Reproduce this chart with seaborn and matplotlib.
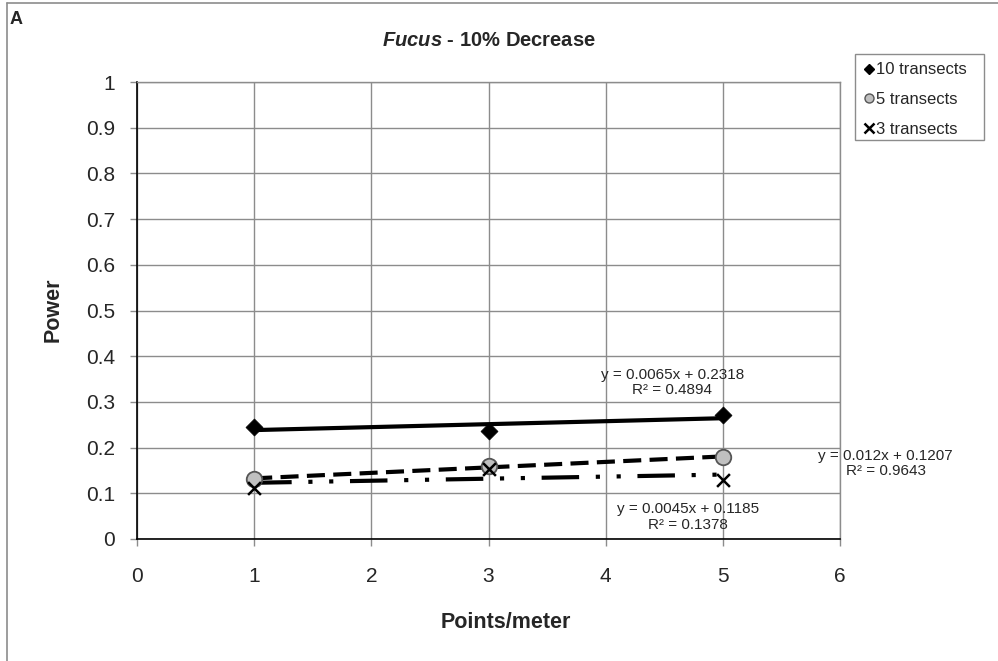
import matplotlib
matplotlib.use("Agg")
import matplotlib.pyplot as plt
from matplotlib.lines import Line2D
from matplotlib.patches import Rectangle
import numpy as np
import pandas as pd
import seaborn as sns

# Sampling effort (points per metre) and power for each transect count
points_per_meter = [1, 3, 5]
series_names = ["10 transects", "5 transects", "3 transects"]
power_10 = [0.246, 0.236, 0.272]
power_5 = [0.131, 0.160, 0.179]
power_3 = [0.112, 0.154, 0.130]

# Linear trendline coefficients and R² values
slopes = [0.0065, 0.012, 0.0045]
intercepts = [0.2318, 0.1207, 0.1185]
r_squared = ["0.4894", "0.9643", "0.1378"]
slope_text = ["0.0065", "0.012", "0.0045"]
intercept_text = ["0.2318", "0.1207", "0.1185"]

x_ticks = [0, 1, 2, 3, 4, 5, 6]
y_ticks = [0, 0.1, 0.2, 0.3, 0.4, 0.5, 0.6, 0.7, 0.8, 0.9, 1]
y_tick_labels = ["0", "0.1", "0.2", "0.3", "0.4", "0.5", "0.6", "0.7", "0.8", "0.9", "1"]

sns.set_style("white")
plt.rcParams["font.family"] = ["Liberation Sans", "DejaVu Sans"]
plt.rcParams["lines.scale_dashes"] = False
plt.rcParams["mathtext.fontset"] = "custom"
plt.rcParams["mathtext.it"] = "Liberation Sans:italic:bold"
plt.rcParams["mathtext.rm"] = "Liberation Sans:bold"

df = pd.DataFrame({
    "x": points_per_meter * 3,
    "power": power_10 + power_5 + power_3,
    "series": [s for s in series_names for _ in points_per_meter],
})

W, H = 998, 661
fig = plt.figure(figsize=(W / 100, H / 100), dpi=100)
ax = fig.add_axes([137 / W, 1 - 539 / H, (840 - 137) / W, (539 - 82) / H])

# Trendlines drawn from the stated regression coefficients
line_styles = [
    dict(color="black", lw=3.0, linestyle="-"),
    dict(color="black", lw=3.0, dashes=(13, 6)),
    dict(color="black", lw=3.0, dashes=(27, 12, 3, 12, 3, 12)),
]
xr = np.array([points_per_meter[0], points_per_meter[-1]], dtype=float)
for m, b, st in zip(slopes, intercepts, line_styles):
    ax.plot(xr, m * xr + b, zorder=3, solid_capstyle="butt", **st)

marker_styles = {
    "10 transects": dict(marker="D", s=75, color="black", edgecolor="black", linewidth=0.5),
    "5 transects": dict(marker="o", s=125, color="#c0c0c0", edgecolor="#555555", linewidth=1.3),
    "3 transects": dict(marker="x", s=85, color="black", linewidth=1.8),
}
for name in series_names:
    sub = df[df["series"] == name]
    sns.scatterplot(data=sub, x="x", y="power", ax=ax, zorder=4, legend=False,
                    **marker_styles[name])

ax.set_xlim(0, 6)
ax.set_ylim(0, 1)
ax.set_xticks(x_ticks)
ax.set_xticklabels([str(t) for t in x_ticks])
ax.set_yticks(y_ticks)
ax.set_yticklabels(y_tick_labels)
ax.grid(True, color="#8c8c8c", linewidth=1.0)
ax.set_axisbelow(True)
for side in ["top", "right"]:
    ax.spines[side].set_color("#8c8c8c")
    ax.spines[side].set_linewidth(1.0)
for side in ["left", "bottom"]:
    ax.spines[side].set_color("black")
    ax.spines[side].set_linewidth(1.2)
ax.tick_params(axis="both", which="major", direction="out", length=5, width=1.0,
               color="#8c8c8c", labelsize=15, left=True, bottom=True)
ax.tick_params(axis="x", pad=15)
ax.tick_params(axis="y", pad=11)

ax.set_xlabel("Points/meter", fontsize=15.5, fontweight="bold")
ax.xaxis.set_label_coords((506 - 137) / 703, (539 - 623) / 457)
ax.xaxis.label.set_va("center")
ax.set_ylabel("Power", fontsize=15.5, fontweight="bold")
ax.yaxis.set_label_coords((53 - 137) / 703, (539 - 310) / 457)
ax.yaxis.label.set_va("center")

ax.set_title(r"$\mathit{Fucus}$" + " - 10% Decrease", fontsize=14.5, fontweight="bold", pad=26)
fig.text(10 / W, 1 - 20 / H, "A", fontsize=13, fontweight="bold", ha="left", va="center")

# Regression equations
eq_pos = [(4.57, 0.343), (6.39, 0.165), (4.70, 0.048)]
for st, it, r2, (px, py) in zip(slope_text, intercept_text, r_squared, eq_pos):
    ax.text(px, py, f"y = {st}x + {it}\nR² = {r2}", fontsize=11, ha="center",
            va="center", multialignment="center", linespacing=1.12, clip_on=False)

handles = [
    Line2D([], [], linestyle="none", marker="D", markersize=5, color="black"),
    Line2D([], [], linestyle="none", marker="o", markersize=6.5, markerfacecolor="#c0c0c0",
           markeredgecolor="#555555", markeredgewidth=1.0),
    Line2D([], [], linestyle="none", marker="x", markersize=6.5, color="black", markeredgewidth=1.8),
]
leg = fig.legend(handles, series_names, loc="upper left",
                 bbox_to_anchor=(855 / W, 1 - 54 / H), fontsize=12,
                 frameon=False, handlelength=0.66, handletextpad=0.09,
                 borderpad=0.51, labelspacing=0.87, borderaxespad=0)
# Legend box
fig.add_artist(Rectangle((855 / W, 1 - 140 / H), (984 - 855) / W, (140 - 54) / H,
                         transform=fig.transFigure, facecolor="none",
                         edgecolor="#8c8c8c", linewidth=1.0))

# Chart-area border (left and top edges)
fig.add_artist(Line2D([6.5 / W, 6.5 / W], [0, 1 - 3 / H], color="#8c8c8c", lw=1.2))
fig.add_artist(Line2D([6.5 / W, 1], [1 - 3 / H, 1 - 3 / H], color="#8c8c8c", lw=1.2))

fig.savefig("out.png", dpi=100)
